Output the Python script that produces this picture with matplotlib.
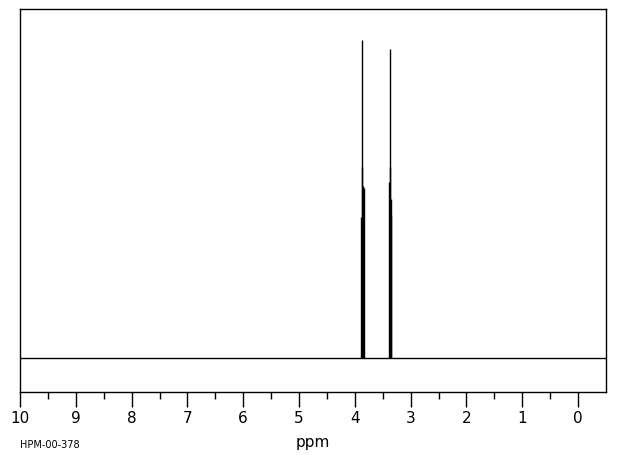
import numpy as np
import matplotlib
matplotlib.use("Agg")
import matplotlib.pyplot as plt

# spectrum lines (ppm, relative intensity)
peak_ppm = [3.889, 3.878, 3.866, 3.855, 3.844, 3.387, 3.378, 3.369, 3.360, 3.351]
peak_height = [0.443, 0.60, 1.0, 0.54, 0.535, 0.553, 0.60, 0.972, 0.50, 0.45]

x_ticks = [10, 9, 8, 7, 6, 5, 4, 3, 2, 1, 0]
x_tick_labels = ["10", "9", "8", "7", "6", "5", "4", "3", "2", "1", "0"]
sample_id = "HPM-00-378"

fig = plt.figure(figsize=(6.2, 4.55), dpi=100)
ax = fig.add_axes([20 / 620, 63 / 455, 586 / 620, 383 / 455])

# baseline and the lines
ax.axhline(0, color="black", lw=1.0)
ax.vlines(peak_ppm, 0, peak_height, color="black", lw=1.0)

ax.set_xlim(10, -0.5)
ax.set_ylim(-0.107, 1.097)
ax.set_yticks([])
ax.set_xticks(x_ticks)
ax.set_xticklabels(x_tick_labels, fontsize=11)
ax.set_xticks(np.arange(9.5, -0.5, -1.0), minor=True)
ax.tick_params(axis="x", which="major", length=11, width=1, pad=3, direction="out")
ax.tick_params(axis="x", which="minor", length=5, width=1, direction="out")
for s in ax.spines.values():
    s.set_linewidth(1.0)

ax.set_xlabel("ppm", fontsize=11, labelpad=6)
fig.text(20 / 620, 1 - 445 / 455, sample_id, fontsize=7, va="center", ha="left")

fig.savefig("out.png", dpi=100)
